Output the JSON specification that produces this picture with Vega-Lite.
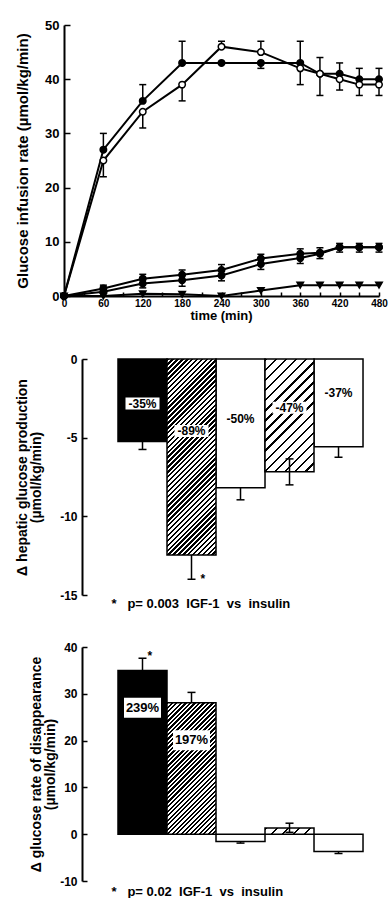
{
"$schema": "https://vega.github.io/schema/vega-lite/v6.json",
"background": "white",
"padding": {"left": 14, "top": 19, "right": 0, "bottom": 0},
"spacing": 31,
"config": {
  "view": {"stroke": null},
  "font": "Liberation Sans",
  "axis": {"labelFont": "Liberation Sans", "titleFont": "Liberation Sans", "labelFontWeight": "bold", "titleFontWeight": "bold", "labelColor": "black", "titleColor": "black", "domainColor": "black", "tickColor": "black", "domainWidth": 2, "tickWidth": 1.5, "grid": false, "labelOverlap": false},
  "text": {"font": "Liberation Sans"}
},
"vconcat": [
{
  "width": 297, "height": 271,
  "data": {"values": [
    {"s":"A","t":0,"v":0},{"s":"A","t":60,"v":27,"e":30},{"s":"A","t":120,"v":36,"e":39},{"s":"A","t":180,"v":43,"e":47},{"s":"A","t":240,"v":43},{"s":"A","t":300,"v":43,"e":42},{"s":"A","t":360,"v":43,"e":47},{"s":"A","t":390,"v":41,"e":44},{"s":"A","t":420,"v":41,"e":43},{"s":"A","t":450,"v":40,"e":42},{"s":"A","t":480,"v":40,"e":42},
    {"s":"B","t":0,"v":0},{"s":"B","t":60,"v":25,"e":22},{"s":"B","t":120,"v":34,"e":31},{"s":"B","t":180,"v":39,"e":36},{"s":"B","t":240,"v":46,"e":47},{"s":"B","t":300,"v":45,"e":47},{"s":"B","t":360,"v":42,"e":39},{"s":"B","t":390,"v":41,"e":37},{"s":"B","t":420,"v":40,"e":38},{"s":"B","t":450,"v":39,"e":37},{"s":"B","t":480,"v":39,"e":37},
    {"s":"C","t":0,"v":0},{"s":"C","t":60,"v":1.4,"e":2},{"s":"C","t":120,"v":3.2,"e":4},{"s":"C","t":180,"v":3.9,"e":4.8},{"s":"C","t":240,"v":4.8,"e":5.8},{"s":"C","t":300,"v":6.9,"e":7.7},{"s":"C","t":360,"v":7.8,"e":8.7},{"s":"C","t":390,"v":8,"e":8.9},{"s":"C","t":420,"v":9,"e":9.7},{"s":"C","t":450,"v":9,"e":9.7},{"s":"C","t":480,"v":9,"e":9.7},
    {"s":"D","t":0,"v":0},{"s":"D","t":60,"v":0.8},{"s":"D","t":120,"v":2.3,"e":1.5},{"s":"D","t":180,"v":2.9,"e":1.8},{"s":"D","t":240,"v":3.8,"e":2.8},{"s":"D","t":300,"v":5.9,"e":4.9},{"s":"D","t":360,"v":7,"e":6},{"s":"D","t":390,"v":7.8,"e":6.9},{"s":"D","t":420,"v":9,"e":8.1},{"s":"D","t":450,"v":9,"e":8.1},{"s":"D","t":480,"v":9,"e":8.1},
    {"s":"E","t":0,"v":0},{"s":"E","t":60,"v":0},{"s":"E","t":120,"v":0.4},{"s":"E","t":180,"v":0.3},{"s":"E","t":240,"v":0},{"s":"E","t":300,"v":1},{"s":"E","t":360,"v":2},{"s":"E","t":390,"v":2},{"s":"E","t":420,"v":2},{"s":"E","t":450,"v":2},{"s":"E","t":480,"v":2}
  ]},
  "encoding": {
    "x": {"field": "t", "type": "quantitative", "scale": {"domain": [0, 480], "nice": false, "range": [-18, 297]},
      "axis": {"values": [0,30,60,90,120,150,180,210,240,270,300,330,360,390,420,450,480], "labelExpr": "datum.value % 60 === 0 ? datum.label : ''", "tickSize": -4, "labelPadding": 6, "labelFontSize": 10, "labelFlush": false, "title": "time (min)", "titleFontSize": 13, "titlePadding": 1, "titleX": 139}}
  },
  "layer": [
    {"mark": {"type": "line", "color": "black", "strokeWidth": 2},
     "encoding": {"y": {"field": "v", "type": "quantitative", "scale": {"domain": [0, 50], "nice": false},
        "axis": {"values": [0,10,20,30,40,50], "offset": 18, "tickSize": -6, "labelPadding": 11, "labelFontSize": 13, "minExtent": 25, "maxExtent": 25, "title": "Glucose infusion rate (µmol/kg/min)", "titleFontSize": 15, "titlePadding": 9}},
       "detail": {"field": "s"}}},
    {"transform": [{"filter": "isValid(datum.e)"}], "mark": {"type": "rule", "color": "black", "strokeWidth": 1.5},
     "encoding": {"y": {"field": "v", "type": "quantitative"}, "y2": {"field": "e"}}},
    {"transform": [{"filter": "isValid(datum.e)"}], "mark": {"type": "tick", "orient": "horizontal", "color": "black", "size": 7, "thickness": 1.5, "opacity": 1},
     "encoding": {"y": {"field": "e", "type": "quantitative"}}},
    {"mark": {"type": "point", "size": 42, "strokeWidth": 1.5, "opacity": 1, "fillOpacity": 1, "stroke": "black"},
     "encoding": {"y": {"field": "v", "type": "quantitative"},
       "shape": {"field": "s", "type": "nominal", "scale": {"domain": ["A","B","C","D","E"], "range": ["circle","circle","circle","circle","triangle-down"]}, "legend": null},
       "fill": {"field": "s", "type": "nominal", "scale": {"domain": ["A","B","C","D","E"], "range": ["black","white","black","black","black"]}, "legend": null}}}
  ]
},
{
  "width": 310, "height": 236,
  "data": {"values": [
    {"g":1,"v":-5.25,"lo":-5.75,"hi":-5.25,"label":"-35%","ly":-2.83},
    {"g":2,"v":-12.45,"lo":-14.0,"hi":-12.45,"label":"-89%","ly":-4.58,"sig":"*"},
    {"g":3,"v":-8.18,"lo":-8.95,"hi":-8.18,"label":"-50%","ly":-3.8},
    {"g":4,"v":-7.16,"lo":-8.0,"hi":-6.35,"label":"-47%","ly":-3.1},
    {"g":5,"v":-5.57,"lo":-6.25,"hi":-5.57,"label":"-37%","ly":-2.16}
  ]},
  "encoding": {
    "x": {"field": "g", "type": "ordinal", "scale": {"domain": [1,2,3,4,5], "paddingInner": 0, "paddingOuter": 0.663, "align": 0.554},
      "axis": {"orient": "bottom", "domain": false, "ticks": false, "labels": false, "title": "*\u00a0\u00a0 p=\u00a00.003\u00a0 IGF-1\u00a0 vs\u00a0 insulin", "titleFontSize": 13, "titleAnchor": "start", "titleAlign": "left", "titleX": 29, "titlePadding": 2}}
  },
  "layer": [
    {"transform": [{"filter": "datum.g == 1"}], "mark": {"type": "bar", "fill": "black", "stroke": "black", "strokeWidth": 1.5, "opacity": 1},
     "encoding": {"y": {"field": "v", "type": "quantitative", "scale": {"domain": [-15, 0], "nice": false},
       "axis": {"values": [0,-5,-10,-15], "labelExpr": "datum.value < 0 ? '-' + (-datum.value) : '' + datum.value", "tickSize": -5, "labelPadding": 10, "labelFontSize": 12, "minExtent": 24, "maxExtent": 24, "title": ["Δ hepatic glucose production", "(µmol/kg/min)"], "titleFontSize": 14, "titleLineHeight": 14, "titlePadding": 15}}}},
    {"transform": [{"filter": "datum.g == 3 || datum.g == 5"}], "mark": {"type": "bar", "fill": "white", "stroke": "black", "strokeWidth": 1.5, "opacity": 1},
     "encoding": {"y": {"field": "v", "type": "quantitative"}}},
    {"transform": [{"filter": "datum.g == 2"}], "mark": {"type": "bar", "stroke": "black", "strokeWidth": 1.5, "opacity": 1,
      "fill": {"gradient": "linear", "x1": 0, "y1": 0, "x2": 0.2943, "y2": 1.1765, "stops": [
{"offset":0,"color":"#000"},{"offset":0.01,"color":"#000"},{"offset":0.01,"color":"#fff"},{"offset":0.02,"color":"#fff"},
{"offset":0.02,"color":"#000"},{"offset":0.03,"color":"#000"},{"offset":0.03,"color":"#fff"},{"offset":0.04,"color":"#fff"},
{"offset":0.04,"color":"#000"},{"offset":0.05,"color":"#000"},{"offset":0.05,"color":"#fff"},{"offset":0.06,"color":"#fff"},
{"offset":0.06,"color":"#000"},{"offset":0.07,"color":"#000"},{"offset":0.07,"color":"#fff"},{"offset":0.08,"color":"#fff"},
{"offset":0.08,"color":"#000"},{"offset":0.09,"color":"#000"},{"offset":0.09,"color":"#fff"},{"offset":0.10,"color":"#fff"},
{"offset":0.10,"color":"#000"},{"offset":0.11,"color":"#000"},{"offset":0.11,"color":"#fff"},{"offset":0.12,"color":"#fff"},
{"offset":0.12,"color":"#000"},{"offset":0.13,"color":"#000"},{"offset":0.13,"color":"#fff"},{"offset":0.14,"color":"#fff"},
{"offset":0.14,"color":"#000"},{"offset":0.15,"color":"#000"},{"offset":0.15,"color":"#fff"},{"offset":0.16,"color":"#fff"},
{"offset":0.16,"color":"#000"},{"offset":0.17,"color":"#000"},{"offset":0.17,"color":"#fff"},{"offset":0.18,"color":"#fff"},
{"offset":0.18,"color":"#000"},{"offset":0.19,"color":"#000"},{"offset":0.19,"color":"#fff"},{"offset":0.20,"color":"#fff"},
{"offset":0.20,"color":"#000"},{"offset":0.21,"color":"#000"},{"offset":0.21,"color":"#fff"},{"offset":0.22,"color":"#fff"},
{"offset":0.22,"color":"#000"},{"offset":0.23,"color":"#000"},{"offset":0.23,"color":"#fff"},{"offset":0.24,"color":"#fff"},
{"offset":0.24,"color":"#000"},{"offset":0.25,"color":"#000"},{"offset":0.25,"color":"#fff"},{"offset":0.26,"color":"#fff"},
{"offset":0.26,"color":"#000"},{"offset":0.27,"color":"#000"},{"offset":0.27,"color":"#fff"},{"offset":0.28,"color":"#fff"},
{"offset":0.28,"color":"#000"},{"offset":0.29,"color":"#000"},{"offset":0.29,"color":"#fff"},{"offset":0.30,"color":"#fff"},
{"offset":0.30,"color":"#000"},{"offset":0.31,"color":"#000"},{"offset":0.31,"color":"#fff"},{"offset":0.32,"color":"#fff"},
{"offset":0.32,"color":"#000"},{"offset":0.33,"color":"#000"},{"offset":0.33,"color":"#fff"},{"offset":0.34,"color":"#fff"},
{"offset":0.34,"color":"#000"},{"offset":0.35,"color":"#000"},{"offset":0.35,"color":"#fff"},{"offset":0.36,"color":"#fff"},
{"offset":0.36,"color":"#000"},{"offset":0.37,"color":"#000"},{"offset":0.37,"color":"#fff"},{"offset":0.38,"color":"#fff"},
{"offset":0.38,"color":"#000"},{"offset":0.39,"color":"#000"},{"offset":0.39,"color":"#fff"},{"offset":0.40,"color":"#fff"},
{"offset":0.40,"color":"#000"},{"offset":0.41,"color":"#000"},{"offset":0.41,"color":"#fff"},{"offset":0.42,"color":"#fff"},
{"offset":0.42,"color":"#000"},{"offset":0.43,"color":"#000"},{"offset":0.43,"color":"#fff"},{"offset":0.44,"color":"#fff"},
{"offset":0.44,"color":"#000"},{"offset":0.45,"color":"#000"},{"offset":0.45,"color":"#fff"},{"offset":0.46,"color":"#fff"},
{"offset":0.46,"color":"#000"},{"offset":0.47,"color":"#000"},{"offset":0.47,"color":"#fff"},{"offset":0.48,"color":"#fff"},
{"offset":0.48,"color":"#000"},{"offset":0.49,"color":"#000"},{"offset":0.49,"color":"#fff"},{"offset":0.50,"color":"#fff"},
{"offset":0.50,"color":"#000"},{"offset":0.51,"color":"#000"},{"offset":0.51,"color":"#fff"},{"offset":0.52,"color":"#fff"},
{"offset":0.52,"color":"#000"},{"offset":0.53,"color":"#000"},{"offset":0.53,"color":"#fff"},{"offset":0.54,"color":"#fff"},
{"offset":0.54,"color":"#000"},{"offset":0.55,"color":"#000"},{"offset":0.55,"color":"#fff"},{"offset":0.56,"color":"#fff"},
{"offset":0.56,"color":"#000"},{"offset":0.57,"color":"#000"},{"offset":0.57,"color":"#fff"},{"offset":0.58,"color":"#fff"},
{"offset":0.58,"color":"#000"},{"offset":0.59,"color":"#000"},{"offset":0.59,"color":"#fff"},{"offset":0.60,"color":"#fff"},
{"offset":0.60,"color":"#000"},{"offset":0.61,"color":"#000"},{"offset":0.61,"color":"#fff"},{"offset":0.62,"color":"#fff"},
{"offset":0.62,"color":"#000"},{"offset":0.63,"color":"#000"},{"offset":0.63,"color":"#fff"},{"offset":0.64,"color":"#fff"},
{"offset":0.64,"color":"#000"},{"offset":0.65,"color":"#000"},{"offset":0.65,"color":"#fff"},{"offset":0.66,"color":"#fff"},
{"offset":0.66,"color":"#000"},{"offset":0.67,"color":"#000"},{"offset":0.67,"color":"#fff"},{"offset":0.68,"color":"#fff"},
{"offset":0.68,"color":"#000"},{"offset":0.69,"color":"#000"},{"offset":0.69,"color":"#fff"},{"offset":0.70,"color":"#fff"},
{"offset":0.70,"color":"#000"},{"offset":0.71,"color":"#000"},{"offset":0.71,"color":"#fff"},{"offset":0.72,"color":"#fff"},
{"offset":0.72,"color":"#000"},{"offset":0.73,"color":"#000"},{"offset":0.73,"color":"#fff"},{"offset":0.74,"color":"#fff"},
{"offset":0.74,"color":"#000"},{"offset":0.75,"color":"#000"},{"offset":0.75,"color":"#fff"},{"offset":0.76,"color":"#fff"},
{"offset":0.76,"color":"#000"},{"offset":0.77,"color":"#000"},{"offset":0.77,"color":"#fff"},{"offset":0.78,"color":"#fff"},
{"offset":0.78,"color":"#000"},{"offset":0.79,"color":"#000"},{"offset":0.79,"color":"#fff"},{"offset":0.80,"color":"#fff"},
{"offset":0.80,"color":"#000"},{"offset":0.81,"color":"#000"},{"offset":0.81,"color":"#fff"},{"offset":0.82,"color":"#fff"},
{"offset":0.82,"color":"#000"},{"offset":0.83,"color":"#000"},{"offset":0.83,"color":"#fff"},{"offset":0.84,"color":"#fff"},
{"offset":0.84,"color":"#000"},{"offset":0.85,"color":"#000"},{"offset":0.85,"color":"#fff"},{"offset":0.86,"color":"#fff"},
{"offset":0.86,"color":"#000"},{"offset":0.87,"color":"#000"},{"offset":0.87,"color":"#fff"},{"offset":0.88,"color":"#fff"},
{"offset":0.88,"color":"#000"},{"offset":0.89,"color":"#000"},{"offset":0.89,"color":"#fff"},{"offset":0.90,"color":"#fff"},
{"offset":0.90,"color":"#000"},{"offset":0.91,"color":"#000"},{"offset":0.91,"color":"#fff"},{"offset":0.92,"color":"#fff"},
{"offset":0.92,"color":"#000"},{"offset":0.93,"color":"#000"},{"offset":0.93,"color":"#fff"},{"offset":0.94,"color":"#fff"},
{"offset":0.94,"color":"#000"},{"offset":0.95,"color":"#000"},{"offset":0.95,"color":"#fff"},{"offset":0.96,"color":"#fff"},
{"offset":0.96,"color":"#000"},{"offset":0.97,"color":"#000"},{"offset":0.97,"color":"#fff"},{"offset":0.98,"color":"#fff"},
{"offset":0.98,"color":"#000"},{"offset":0.99,"color":"#000"},{"offset":0.99,"color":"#fff"},{"offset":1,"color":"#fff"}
      ]}},
     "encoding": {"y": {"field": "v", "type": "quantitative"}}},
    {"transform": [{"filter": "datum.g == 4"}], "mark": {"type": "bar", "stroke": "black", "strokeWidth": 1.5, "opacity": 1,
      "fill": {"gradient": "linear", "x1": 0, "y1": 0, "x2": 0.5251, "y2": 1.2067, "stops": [
{"offset":0,"color":"#000"},{"offset":0.0156,"color":"#000"},{"offset":0.0156,"color":"#fff"},{"offset":0.0625,"color":"#fff"},
{"offset":0.0625,"color":"#000"},{"offset":0.0781,"color":"#000"},{"offset":0.0781,"color":"#fff"},{"offset":0.125,"color":"#fff"},
{"offset":0.125,"color":"#000"},{"offset":0.1406,"color":"#000"},{"offset":0.1406,"color":"#fff"},{"offset":0.1875,"color":"#fff"},
{"offset":0.1875,"color":"#000"},{"offset":0.2031,"color":"#000"},{"offset":0.2031,"color":"#fff"},{"offset":0.25,"color":"#fff"},
{"offset":0.25,"color":"#000"},{"offset":0.2656,"color":"#000"},{"offset":0.2656,"color":"#fff"},{"offset":0.3125,"color":"#fff"},
{"offset":0.3125,"color":"#000"},{"offset":0.3281,"color":"#000"},{"offset":0.3281,"color":"#fff"},{"offset":0.375,"color":"#fff"},
{"offset":0.375,"color":"#000"},{"offset":0.3906,"color":"#000"},{"offset":0.3906,"color":"#fff"},{"offset":0.4375,"color":"#fff"},
{"offset":0.4375,"color":"#000"},{"offset":0.4531,"color":"#000"},{"offset":0.4531,"color":"#fff"},{"offset":0.5,"color":"#fff"},
{"offset":0.5,"color":"#000"},{"offset":0.5156,"color":"#000"},{"offset":0.5156,"color":"#fff"},{"offset":0.5625,"color":"#fff"},
{"offset":0.5625,"color":"#000"},{"offset":0.5781,"color":"#000"},{"offset":0.5781,"color":"#fff"},{"offset":0.625,"color":"#fff"},
{"offset":0.625,"color":"#000"},{"offset":0.6406,"color":"#000"},{"offset":0.6406,"color":"#fff"},{"offset":0.6875,"color":"#fff"},
{"offset":0.6875,"color":"#000"},{"offset":0.7031,"color":"#000"},{"offset":0.7031,"color":"#fff"},{"offset":0.75,"color":"#fff"},
{"offset":0.75,"color":"#000"},{"offset":0.7656,"color":"#000"},{"offset":0.7656,"color":"#fff"},{"offset":0.8125,"color":"#fff"},
{"offset":0.8125,"color":"#000"},{"offset":0.8281,"color":"#000"},{"offset":0.8281,"color":"#fff"},{"offset":0.875,"color":"#fff"},
{"offset":0.875,"color":"#000"},{"offset":0.8906,"color":"#000"},{"offset":0.8906,"color":"#fff"},{"offset":0.9375,"color":"#fff"},
{"offset":0.9375,"color":"#000"},{"offset":0.9531,"color":"#000"},{"offset":0.9531,"color":"#fff"},{"offset":1,"color":"#fff"}
      ]}},
     "encoding": {"y": {"field": "v", "type": "quantitative"}}},
    {"mark": {"type": "rule", "color": "black", "strokeWidth": 1.5},
     "encoding": {"y": {"field": "lo", "type": "quantitative"}, "y2": {"field": "hi"}}},
    {"transform": [{"filter": "datum.lo < datum.v"}], "mark": {"type": "tick", "orient": "horizontal", "color": "black", "size": 8, "thickness": 1.5, "opacity": 1},
     "encoding": {"y": {"field": "lo", "type": "quantitative"}}},
    {"transform": [{"filter": "datum.hi > datum.v"}], "mark": {"type": "tick", "orient": "horizontal", "color": "black", "size": 8, "thickness": 1.5, "opacity": 1},
     "encoding": {"y": {"field": "hi", "type": "quantitative"}}},
    {"transform": [{"filter": "datum.g != 3 && datum.g != 5"}], "mark": {"type": "tick", "orient": "horizontal", "color": "white", "size": 34, "thickness": 12, "opacity": 1},
     "encoding": {"y": {"field": "ly", "type": "quantitative"}}},
    {"mark": {"type": "text", "fontSize": 12, "fontWeight": "bold", "color": "black", "baseline": "middle", "align": "center"},
     "encoding": {"y": {"field": "ly", "type": "quantitative"}, "text": {"field": "label"}}},
    {"mark": {"type": "rule", "color": "black", "strokeWidth": 1.5},
     "encoding": {"y": {"datum": 0, "type": "quantitative"}}},
    {"transform": [{"filter": "isValid(datum.sig)"}], "mark": {"type": "text", "fontSize": 12, "fontWeight": "bold", "color": "black", "align": "left", "baseline": "middle", "dx": 9},
     "encoding": {"y": {"field": "lo", "type": "quantitative"}, "text": {"field": "sig"}}}
  ]
},
{
  "width": 310, "height": 234,
  "data": {"values": [
    {"g":1,"v":35.0,"lo":35.0,"hi":37.6,"label":"239%","ly":27.0,"sig":"*"},
    {"g":2,"v":28.1,"lo":28.1,"hi":30.3,"label":"197%","ly":20.1},
    {"g":3,"v":-1.55,"lo":-1.9,"hi":-1.55},
    {"g":4,"v":1.3,"lo":0.4,"hi":2.35},
    {"g":5,"v":-3.7,"lo":-4.1,"hi":-3.7}
  ]},
  "encoding": {
    "x": {"field": "g", "type": "ordinal", "scale": {"domain": [1,2,3,4,5], "paddingInner": 0, "paddingOuter": 0.663, "align": 0.554},
      "axis": {"orient": "bottom", "domain": false, "ticks": false, "labels": false, "title": "*\u00a0\u00a0 p=\u00a00.02\u00a0 IGF-1\u00a0 vs\u00a0 insulin", "titleFontSize": 13, "titleAnchor": "start", "titleAlign": "left", "titleX": 29, "titlePadding": 4}}
  },
  "layer": [
    {"transform": [{"filter": "datum.g == 1"}], "mark": {"type": "bar", "fill": "black", "stroke": "black", "strokeWidth": 1.5, "opacity": 1},
     "encoding": {"y": {"field": "v", "type": "quantitative", "scale": {"domain": [-10, 40], "nice": false},
       "axis": {"values": [-10,0,10,20,30,40], "labelExpr": "datum.value < 0 ? '-' + (-datum.value) : '' + datum.value", "tickSize": -5, "labelPadding": 10, "labelFontSize": 12, "minExtent": 24, "maxExtent": 24, "title": ["", "Δ glucose rate of disappearance", "(µmol/kg/min)"], "titleFontSize": 14, "titleLineHeight": 14, "titlePadding": 1}}}},
    {"transform": [{"filter": "datum.g == 3 || datum.g == 5"}], "mark": {"type": "bar", "fill": "white", "stroke": "black", "strokeWidth": 1.5, "opacity": 1},
     "encoding": {"y": {"field": "v", "type": "quantitative"}}},
    {"transform": [{"filter": "datum.g == 2"}], "mark": {"type": "bar", "stroke": "black", "strokeWidth": 1.5, "opacity": 1,
      "fill": {"gradient": "linear", "x1": 0, "y1": 0, "x2": 0.4491, "y2": 1.2053, "stops": [
{"offset":0,"color":"#000"},{"offset":0.0125,"color":"#000"},{"offset":0.0125,"color":"#fff"},{"offset":0.025,"color":"#fff"},
{"offset":0.025,"color":"#000"},{"offset":0.0375,"color":"#000"},{"offset":0.0375,"color":"#fff"},{"offset":0.05,"color":"#fff"},
{"offset":0.05,"color":"#000"},{"offset":0.0625,"color":"#000"},{"offset":0.0625,"color":"#fff"},{"offset":0.075,"color":"#fff"},
{"offset":0.075,"color":"#000"},{"offset":0.0875,"color":"#000"},{"offset":0.0875,"color":"#fff"},{"offset":0.1,"color":"#fff"},
{"offset":0.1,"color":"#000"},{"offset":0.1125,"color":"#000"},{"offset":0.1125,"color":"#fff"},{"offset":0.125,"color":"#fff"},
{"offset":0.125,"color":"#000"},{"offset":0.1375,"color":"#000"},{"offset":0.1375,"color":"#fff"},{"offset":0.15,"color":"#fff"},
{"offset":0.15,"color":"#000"},{"offset":0.1625,"color":"#000"},{"offset":0.1625,"color":"#fff"},{"offset":0.175,"color":"#fff"},
{"offset":0.175,"color":"#000"},{"offset":0.1875,"color":"#000"},{"offset":0.1875,"color":"#fff"},{"offset":0.2,"color":"#fff"},
{"offset":0.2,"color":"#000"},{"offset":0.2125,"color":"#000"},{"offset":0.2125,"color":"#fff"},{"offset":0.225,"color":"#fff"},
{"offset":0.225,"color":"#000"},{"offset":0.2375,"color":"#000"},{"offset":0.2375,"color":"#fff"},{"offset":0.25,"color":"#fff"},
{"offset":0.25,"color":"#000"},{"offset":0.2625,"color":"#000"},{"offset":0.2625,"color":"#fff"},{"offset":0.275,"color":"#fff"},
{"offset":0.275,"color":"#000"},{"offset":0.2875,"color":"#000"},{"offset":0.2875,"color":"#fff"},{"offset":0.3,"color":"#fff"},
{"offset":0.3,"color":"#000"},{"offset":0.3125,"color":"#000"},{"offset":0.3125,"color":"#fff"},{"offset":0.325,"color":"#fff"},
{"offset":0.325,"color":"#000"},{"offset":0.3375,"color":"#000"},{"offset":0.3375,"color":"#fff"},{"offset":0.35,"color":"#fff"},
{"offset":0.35,"color":"#000"},{"offset":0.3625,"color":"#000"},{"offset":0.3625,"color":"#fff"},{"offset":0.375,"color":"#fff"},
{"offset":0.375,"color":"#000"},{"offset":0.3875,"color":"#000"},{"offset":0.3875,"color":"#fff"},{"offset":0.4,"color":"#fff"},
{"offset":0.4,"color":"#000"},{"offset":0.4125,"color":"#000"},{"offset":0.4125,"color":"#fff"},{"offset":0.425,"color":"#fff"},
{"offset":0.425,"color":"#000"},{"offset":0.4375,"color":"#000"},{"offset":0.4375,"color":"#fff"},{"offset":0.45,"color":"#fff"},
{"offset":0.45,"color":"#000"},{"offset":0.4625,"color":"#000"},{"offset":0.4625,"color":"#fff"},{"offset":0.475,"color":"#fff"},
{"offset":0.475,"color":"#000"},{"offset":0.4875,"color":"#000"},{"offset":0.4875,"color":"#fff"},{"offset":0.5,"color":"#fff"},
{"offset":0.5,"color":"#000"},{"offset":0.5125,"color":"#000"},{"offset":0.5125,"color":"#fff"},{"offset":0.525,"color":"#fff"},
{"offset":0.525,"color":"#000"},{"offset":0.5375,"color":"#000"},{"offset":0.5375,"color":"#fff"},{"offset":0.55,"color":"#fff"},
{"offset":0.55,"color":"#000"},{"offset":0.5625,"color":"#000"},{"offset":0.5625,"color":"#fff"},{"offset":0.575,"color":"#fff"},
{"offset":0.575,"color":"#000"},{"offset":0.5875,"color":"#000"},{"offset":0.5875,"color":"#fff"},{"offset":0.6,"color":"#fff"},
{"offset":0.6,"color":"#000"},{"offset":0.6125,"color":"#000"},{"offset":0.6125,"color":"#fff"},{"offset":0.625,"color":"#fff"},
{"offset":0.625,"color":"#000"},{"offset":0.6375,"color":"#000"},{"offset":0.6375,"color":"#fff"},{"offset":0.65,"color":"#fff"},
{"offset":0.65,"color":"#000"},{"offset":0.6625,"color":"#000"},{"offset":0.6625,"color":"#fff"},{"offset":0.675,"color":"#fff"},
{"offset":0.675,"color":"#000"},{"offset":0.6875,"color":"#000"},{"offset":0.6875,"color":"#fff"},{"offset":0.7,"color":"#fff"},
{"offset":0.7,"color":"#000"},{"offset":0.7125,"color":"#000"},{"offset":0.7125,"color":"#fff"},{"offset":0.725,"color":"#fff"},
{"offset":0.725,"color":"#000"},{"offset":0.7375,"color":"#000"},{"offset":0.7375,"color":"#fff"},{"offset":0.75,"color":"#fff"},
{"offset":0.75,"color":"#000"},{"offset":0.7625,"color":"#000"},{"offset":0.7625,"color":"#fff"},{"offset":0.775,"color":"#fff"},
{"offset":0.775,"color":"#000"},{"offset":0.7875,"color":"#000"},{"offset":0.7875,"color":"#fff"},{"offset":0.8,"color":"#fff"},
{"offset":0.8,"color":"#000"},{"offset":0.8125,"color":"#000"},{"offset":0.8125,"color":"#fff"},{"offset":0.825,"color":"#fff"},
{"offset":0.825,"color":"#000"},{"offset":0.8375,"color":"#000"},{"offset":0.8375,"color":"#fff"},{"offset":0.85,"color":"#fff"},
{"offset":0.85,"color":"#000"},{"offset":0.8625,"color":"#000"},{"offset":0.8625,"color":"#fff"},{"offset":0.875,"color":"#fff"},
{"offset":0.875,"color":"#000"},{"offset":0.8875,"color":"#000"},{"offset":0.8875,"color":"#fff"},{"offset":0.9,"color":"#fff"},
{"offset":0.9,"color":"#000"},{"offset":0.9125,"color":"#000"},{"offset":0.9125,"color":"#fff"},{"offset":0.925,"color":"#fff"},
{"offset":0.925,"color":"#000"},{"offset":0.9375,"color":"#000"},{"offset":0.9375,"color":"#fff"},{"offset":0.95,"color":"#fff"},
{"offset":0.95,"color":"#000"},{"offset":0.9625,"color":"#000"},{"offset":0.9625,"color":"#fff"},{"offset":0.975,"color":"#fff"},
{"offset":0.975,"color":"#000"},{"offset":0.9875,"color":"#000"},{"offset":0.9875,"color":"#fff"},{"offset":1,"color":"#fff"}
      ]}},
     "encoding": {"y": {"field": "v", "type": "quantitative"}}},
    {"transform": [{"filter": "datum.g == 4"}], "mark": {"type": "bar", "stroke": "black", "strokeWidth": 1.5, "opacity": 1,
      "fill": {"gradient": "linear", "x1": 0, "y1": 0, "x2": 1.107, "y2": 0.1374, "stops": [
{"offset":0,"color":"#000"},{"offset":0.05,"color":"#000"},{"offset":0.05,"color":"#fff"},{"offset":0.2,"color":"#fff"},
{"offset":0.2,"color":"#000"},{"offset":0.25,"color":"#000"},{"offset":0.25,"color":"#fff"},{"offset":0.4,"color":"#fff"},
{"offset":0.4,"color":"#000"},{"offset":0.45,"color":"#000"},{"offset":0.45,"color":"#fff"},{"offset":0.6,"color":"#fff"},
{"offset":0.6,"color":"#000"},{"offset":0.65,"color":"#000"},{"offset":0.65,"color":"#fff"},{"offset":0.8,"color":"#fff"},
{"offset":0.8,"color":"#000"},{"offset":0.85,"color":"#000"},{"offset":0.85,"color":"#fff"},{"offset":1,"color":"#fff"}
      ]}},
     "encoding": {"y": {"field": "v", "type": "quantitative"}}},
    {"mark": {"type": "rule", "color": "black", "strokeWidth": 1.5},
     "encoding": {"y": {"field": "lo", "type": "quantitative"}, "y2": {"field": "hi"}}},
    {"transform": [{"filter": "datum.lo < datum.v"}], "mark": {"type": "tick", "orient": "horizontal", "color": "black", "size": 8, "thickness": 1.5, "opacity": 1},
     "encoding": {"y": {"field": "lo", "type": "quantitative"}}},
    {"transform": [{"filter": "datum.hi > datum.v"}], "mark": {"type": "tick", "orient": "horizontal", "color": "black", "size": 8, "thickness": 1.5, "opacity": 1},
     "encoding": {"y": {"field": "hi", "type": "quantitative"}}},
    {"transform": [{"filter": "isValid(datum.label)"}], "mark": {"type": "tick", "orient": "horizontal", "color": "white", "size": 37, "thickness": 20, "opacity": 1},
     "encoding": {"y": {"field": "ly", "type": "quantitative"}}},
    {"transform": [{"filter": "isValid(datum.label)"}], "mark": {"type": "text", "fontSize": 13, "fontWeight": "bold", "color": "black", "baseline": "middle", "align": "center"},
     "encoding": {"y": {"field": "ly", "type": "quantitative"}, "text": {"field": "label"}}},
    {"mark": {"type": "rule", "color": "black", "strokeWidth": 1.5},
     "encoding": {"y": {"datum": 0, "type": "quantitative"}}},
    {"transform": [{"filter": "isValid(datum.sig)"}], "mark": {"type": "text", "fontSize": 12, "fontWeight": "bold", "color": "black", "align": "left", "baseline": "middle", "dx": 5, "dy": -2},
     "encoding": {"y": {"field": "hi", "type": "quantitative"}, "text": {"field": "sig"}}}
  ]
}
]
}
